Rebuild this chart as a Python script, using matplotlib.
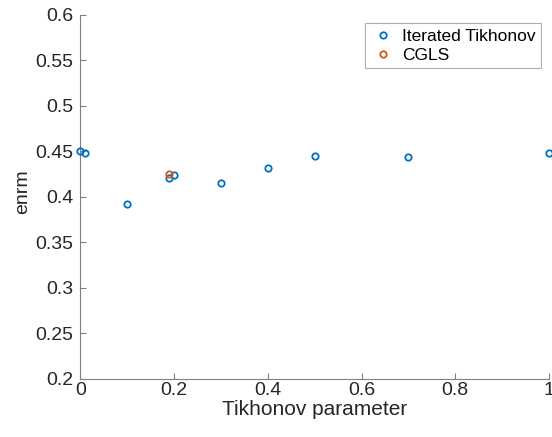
import matplotlib
matplotlib.use("Agg")
import matplotlib.pyplot as plt

plt.rcParams['font.family'] = ['Liberation Sans', 'DejaVu Sans']

# Iterated Tikhonov results vs regularisation parameter
tik_param = [0.0, 0.01, 0.1, 0.19, 0.2, 0.3, 0.4, 0.5, 0.7, 1.0]
tik_enrm = [0.450, 0.448, 0.392, 0.421, 0.4245, 0.415, 0.432, 0.445, 0.444, 0.4485]

# CGLS result
cgls_param = [0.19]
cgls_enrm = [0.4255]

xticks = [0, 0.2, 0.4, 0.6, 0.8, 1]
xticklabels = ['0', '0.2', '0.4', '0.6', '0.8', '1']
yticks = [0.2, 0.25, 0.3, 0.35, 0.4, 0.45, 0.5, 0.55, 0.6]
yticklabels = ['0.2', '0.25', '0.3', '0.35', '0.4', '0.45', '0.5', '0.55', '0.6']

blue = '#0072BD'
orange = '#D95319'
axcol = '#262626'

fig = plt.figure(figsize=(5.52, 4.37), dpi=100)
ax = fig.add_axes([0.1455, 0.133, 0.849, 0.833])

ax.plot(tik_param, tik_enrm, 'o', ls='none', mfc='none', mec=blue, mew=1.3, ms=4.6,
        label='Iterated Tikhonov', clip_on=False, zorder=3)
ax.plot(cgls_param, cgls_enrm, 'o', ls='none', mfc='none', mec=orange, mew=1.3, ms=4.6,
        label='CGLS', clip_on=False, zorder=3)

ax.set_xlim(0, 1)
ax.set_ylim(0.2, 0.6)
ax.set_xticks(xticks)
ax.set_xticklabels(xticklabels)
ax.set_yticks(yticks)
ax.set_yticklabels(yticklabels)

for side in ('top', 'right'):
    ax.spines[side].set_visible(False)
for side in ('left', 'bottom'):
    ax.spines[side].set_color('#808080')
    ax.spines[side].set_linewidth(0.8)

ax.tick_params(direction='in', length=4, width=0.8, color='#808080',
               labelsize=14, labelcolor=axcol)
ax.tick_params(axis='y', pad=5)
ax.tick_params(axis='x', pad=2)

ax.set_xlabel('Tikhonov parameter', fontsize=15, color=axcol, labelpad=1)
ax.set_ylabel('enrm', fontsize=14, color=axcol)
ax.yaxis.set_label_coords(-0.106, 0.514)

leg = ax.legend(loc='upper right', bbox_to_anchor=(0.99, 0.986), fontsize=12.5,
                frameon=True, fancybox=False, borderpad=0.3, handletextpad=0.35,
                handlelength=1.5, labelspacing=0.25, borderaxespad=0.2)
leg.get_frame().set_edgecolor('#9a9a9a')
leg.get_frame().set_linewidth(0.8)

fig.savefig('out.png', dpi=100)
